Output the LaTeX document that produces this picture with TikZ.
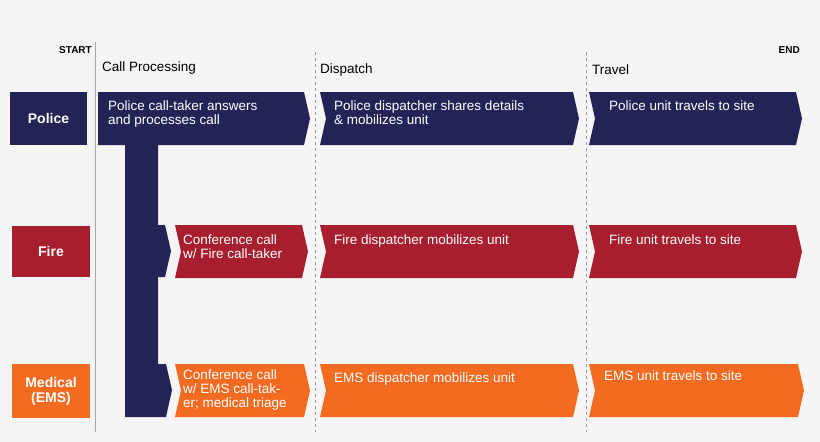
\documentclass[tikz,border=0pt]{standalone}
\usepackage{fontspec}
\setmainfont{Liberation Sans}
\definecolor{navy}{HTML}{232455}
\definecolor{fred}{HTML}{A71E2F}
\definecolor{ems}{HTML}{F36B21}
\definecolor{bg}{HTML}{F5F5F5}
\newcommand{\chevbox}[6]{% x1 x2 y1 y2 color leftnotch(0/1)
  \fill[#5] (#1,#3)--({#2-6},#3)--(#2,{(#3+#4)/2})--({#2-6},#4)--(#1,#4)--({#1+6*#6},{(#3+#4)/2})--cycle;}
\begin{document}
\begin{tikzpicture}[x=1pt,y=-1pt,
  txt/.style={text=white,font=\fontsize{13.5}{14}\selectfont,anchor=north west,align=left,inner sep=0pt},
  lab/.style={text=white,font=\fontsize{14}{15}\selectfont\bfseries,align=center},
  hdr/.style={font=\fontsize{13.5}{15}\selectfont,anchor=west,inner sep=0pt},
  se/.style={font=\fontsize{10}{12}\selectfont\bfseries,inner sep=0pt}]
\fill[bg] (0,0) rectangle (820,442);
\useasboundingbox (0,0) rectangle (820,442);
\draw[gray!70,line width=1pt] (95,42)--(95,432);
\draw[gray!80,dashed,line width=0.8pt] (315,52)--(315,432);
\draw[gray!80,dashed,line width=0.8pt] (586,52)--(586,432);
\node[se,anchor=east] (st) at (92,50) {START};
\node[se,anchor=east] (en) at (800,50) {END};
\node[hdr] (h1) at (102,68) {Call Processing};
\node[hdr] (h2) at (320,70) {Dispatch};
\node[hdr] (h3) at (592,70) {Travel};
% labels
\fill[navy] (10,92) rectangle (87,145);
\node[lab] (lp) at (48.5,118.5) {Police};
\fill[fred] (12,226) rectangle (90,277);
\node[lab] (lf) at (51,251.5) {Fire};
\fill[ems] (12,364) rectangle (90,418);
\node[lab] (lm) at (51,391) {Medical\\(EMS)};
% navy bar
\fill[navy] (125,140)--(158,140)--(158,225)--(165,225)--(171,251)--(165,277)--(158,277)--(158,364)--(166,364)--(172,390)--(166,417)--(125,417)--cycle;
% police
\chevbox{98}{310}{92}{145}{navy}{0}
\chevbox{320}{579}{92}{145}{navy}{1}
\chevbox{589}{802}{92}{145}{navy}{1}
\node[txt] (p1) at (108,101) {Police call-taker answers\\and processes call};
\node[txt] (p2) at (334,101) {Police dispatcher shares details\\\& mobilizes unit};
\node[txt] (p3) at (609,101) {Police unit travels to site};
% fire
\chevbox{175}{308}{225}{278}{fred}{1}
\chevbox{320}{579}{225}{278}{fred}{1}
\chevbox{589}{802}{225}{278}{fred}{1}
\node[txt] (f1) at (183,235) {Conference call\\w/ Fire call-taker};
\node[txt] (f2) at (334,235) {Fire dispatcher mobilizes unit};
\node[txt] (f3) at (609,235) {Fire unit travels to site};
% ems
\chevbox{175}{310}{364}{417}{ems}{1}
\chevbox{320}{579}{364}{417}{ems}{1}
\chevbox{589}{804}{364}{417}{ems}{1}
\node[txt] (m1) at (183,370) {Conference call\\w/ EMS call-tak-\\er; medical triage};
\node[txt] (m2) at (334,373) {EMS dispatcher mobilizes unit};
\node[txt] (m3) at (604,371) {EMS unit travels to site};
\end{tikzpicture}
\end{document}
